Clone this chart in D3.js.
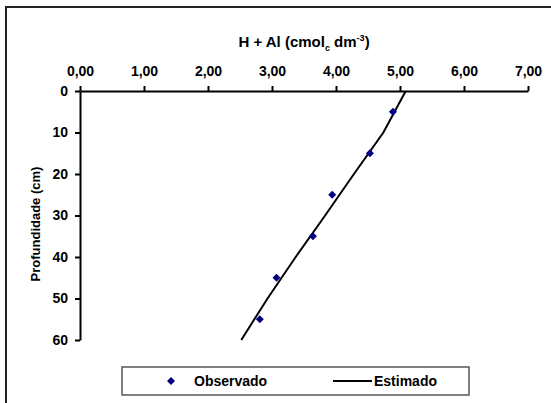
<!DOCTYPE html>
<html>
<head>
<meta charset="utf-8">
<script src="https://cdn.jsdelivr.net/npm/d3@7"></script>
<style>
  body { margin: 0; background: #fff; }
  svg { display: block; font-family: "Liberation Sans", Arial, sans-serif; font-weight: bold; }
</style>
</head>
<body>
<svg width="551" height="403"></svg>
<script>
// dados observados (profundidade em cm, H + Al)
const depthObs = [5, 15, 25, 35, 45, 55];
const hAlObs = [4.89, 4.53, 3.94, 3.64, 3.07, 2.81];

// curva estimada
const depthEst = [0, 10, 20, 30, 40, 50, 60];
const hAlEst = [5.09, 4.74, 4.28, 3.83, 3.37, 2.93, 2.52];

// rótulos dos eixos
const xTicks = [0, 1, 2, 3, 4, 5, 6, 7];
const yTicks = [0, 10, 20, 30, 40, 50, 60];

const svg = d3.select("svg");

// moldura externa
svg.append("rect")
    .attr("x", 6).attr("y", 7)
    .attr("width", 560).attr("height", 420)
    .attr("fill", "none")
    .attr("stroke", "#222")
    .attr("stroke-width", 2);

const x = d3.scaleLinear().domain([0, 7]).range([80, 528]);
const y = d3.scaleLinear().domain([0, 60]).range([91, 340]);

// eixo x no topo
const xAxis = svg.append("g")
    .attr("transform", `translate(0,${y(0)})`)
    .call(d3.axisTop(x)
        .tickValues(xTicks)
        .tickSize(5)
        .tickSizeOuter(0)
        .tickPadding(10)
        .tickFormat(d => d3.format(".2f")(d).replace(".", ",")));

// eixo y
const yAxis = svg.append("g")
    .attr("transform", `translate(${x(0)},0)`)
    .call(d3.axisLeft(y)
        .tickValues(yTicks)
        .tickSize(5)
        .tickSizeOuter(0)
        .tickPadding(7));

[xAxis, yAxis].forEach(g => {
    g.select(".domain").attr("stroke", "#000").attr("stroke-width", 2);
    g.selectAll(".tick line").attr("stroke", "#000").attr("stroke-width", 2);
    g.selectAll(".tick text")
        .attr("fill", "#000")
        .style("font-family", "Liberation Sans, Arial, sans-serif")
        .style("font-weight", "bold")
        .style("font-size", "14px");
});

// títulos
const title = svg.append("text")
    .attr("x", (x(0) + x(7)) / 2)
    .attr("y", 47)
    .attr("text-anchor", "middle")
    .style("font-size", "15px");
title.append("tspan").text("H + Al (cmol");
title.append("tspan").attr("dy", 4).style("font-size", "9px").text("c");
title.append("tspan").attr("dy", -4).text(" dm");
title.append("tspan").attr("dy", -6).style("font-size", "9px").text("-3");
title.append("tspan").attr("dy", 6).text(")");

svg.append("text")
    .attr("transform", "translate(40,224) rotate(-90)")
    .attr("text-anchor", "middle")
    .style("font-size", "13px")
    .text("Profundidade (cm)");

// linha estimada
const estData = depthEst.map((d, i) => ({ depth: d, v: hAlEst[i] }));
svg.append("path")
    .datum(estData)
    .attr("fill", "none")
    .attr("stroke", "#000")
    .attr("stroke-width", 2)
    .attr("d", d3.line().x(d => x(d.v)).y(d => y(d.depth)));

// pontos observados
const diamond = d3.symbol().type(d3.symbolSquare).size(32);
svg.selectAll(".obs")
    .data(depthObs.map((d, i) => ({ depth: d, v: hAlObs[i] })))
    .enter()
    .append("path")
    .attr("class", "obs")
    .attr("d", diamond)
    .attr("transform", d => `translate(${x(d.v)},${y(d.depth)}) rotate(45)`)
    .attr("fill", "#000080");

// legenda
const leg = svg.append("g");
leg.append("rect")
    .attr("x", 122).attr("y", 367)
    .attr("width", 347).attr("height", 28)
    .attr("fill", "#fff")
    .attr("stroke", "#555")
    .attr("stroke-width", 1.5);
leg.append("path")
    .attr("d", diamond)
    .attr("transform", "translate(171,381) rotate(45)")
    .attr("fill", "#000080");
leg.append("text")
    .attr("x", 194).attr("y", 386)
    .style("font-size", "14px")
    .text("Observado");
leg.append("line")
    .attr("x1", 333).attr("x2", 372)
    .attr("y1", 381).attr("y2", 381)
    .attr("stroke", "#000")
    .attr("stroke-width", 2);
leg.append("text")
    .attr("x", 374).attr("y", 386)
    .style("font-size", "14px")
    .text("Estimado");
</script>
</body>
</html>
